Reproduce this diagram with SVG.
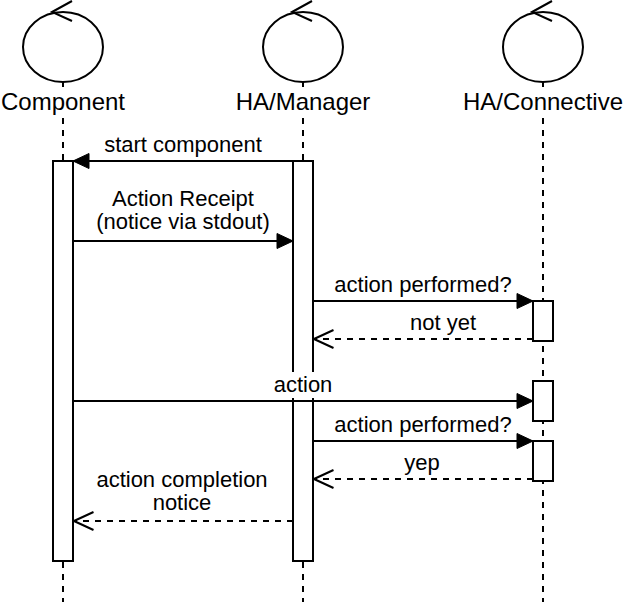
<svg xmlns="http://www.w3.org/2000/svg" width="624" height="602" viewBox="0 0 624 602">
<style>
.ln{fill:none;stroke:#000;stroke-width:2}
.dash{fill:none;stroke:#000;stroke-width:2;stroke-dasharray:6 6}
.bar{fill:#fff;stroke:#000;stroke-width:2}
.icon{fill:#fff;stroke:#000;stroke-width:2}
.lbl{font-family:"Liberation Sans",Arial,sans-serif;font-size:24px;fill:#000;text-anchor:middle}
.msg{font-family:"Liberation Sans",Arial,sans-serif;font-size:22px;fill:#000;text-anchor:middle}
.bg{fill:#fff;stroke:none}
</style>
<defs>
<marker id="solid" markerUnits="userSpaceOnUse" markerWidth="18" markerHeight="18" viewBox="0 0 18 18" refX="17" refY="9" orient="auto">
<path d="M1,1.5 L17,9 L1,16.5 Z" fill="#000" stroke="#000" stroke-width="1"/>
</marker>
<marker id="open" markerUnits="userSpaceOnUse" markerWidth="22" markerHeight="22" viewBox="0 0 22 22" refX="20.5" refY="11" orient="auto">
<path d="M1,2 L20.5,11 L1,20" fill="none" stroke="#000" stroke-width="2"/>
</marker>
</defs>

<g id="lifeline-component">
<path class="dash" d="M63,82 V602"/>
<ellipse class="icon" cx="63" cy="47" rx="40" ry="35"/>
<path class="ln" d="M72,1 L52,12 L72,21"/>
<rect class="bg" x="1" y="87" width="124" height="27"/>
<text class="lbl" x="63" y="109.5">Component</text>
<rect class="bar" x="53" y="161" width="20" height="400"/>
</g>

<g id="lifeline-manager">
<path class="dash" d="M303,82 V602"/>
<ellipse class="icon" cx="303" cy="47" rx="40" ry="35"/>
<path class="ln" d="M312,1 L292,12 L312,21"/>
<rect class="bg" x="234" y="87" width="138" height="27"/>
<text class="lbl" x="303" y="109.5">HA/Manager</text>
<rect class="bar" x="293" y="161" width="20" height="400"/>
</g>

<g id="lifeline-connective">
<path class="dash" d="M543,82 V602"/>
<ellipse class="icon" cx="543" cy="47" rx="40" ry="35"/>
<path class="ln" d="M552,1 L532,12 L552,21"/>
<rect class="bg" x="462" y="87" width="162" height="27"/>
<text class="lbl" x="543" y="109.5">HA/Connective</text>
<rect class="bar" x="533" y="301" width="20" height="40"/>
<rect class="bar" x="533" y="381" width="20" height="40"/>
<rect class="bar" x="533" y="441" width="20" height="40"/>
</g>

<g id="connectors">
<path class="ln" d="M303,161 H73" marker-end="url(#solid)"/>
<text class="msg" x="183" y="152">start component</text>

<path class="ln" d="M73,241 H293" marker-end="url(#solid)"/>
<text class="msg" x="183" y="206">Action Receipt</text>
<text class="msg" x="183" y="229">(notice via stdout)</text>

<path class="ln" d="M313,301 H533" marker-end="url(#solid)"/>
<text class="msg" x="423" y="292">action performed?</text>

<path class="dash" d="M533,339 H314" marker-end="url(#open)"/>
<text class="msg" x="443" y="330">not yet</text>

<rect class="bg" x="274" y="372" width="58" height="26"/>
<text class="msg" x="303" y="392">action</text>
<path class="ln" d="M73,401 H533" marker-end="url(#solid)"/>

<path class="ln" d="M313,441 H533" marker-end="url(#solid)"/>
<text class="msg" x="423" y="432">action performed?</text>

<path class="dash" d="M533,479 H314" marker-end="url(#open)"/>
<text class="msg" x="422" y="470">yep</text>

<path class="dash" d="M293,521 H74" marker-end="url(#open)"/>
<text class="msg" x="182" y="487">action completion</text>
<text class="msg" x="182" y="510">notice</text>
</g>
</svg>
